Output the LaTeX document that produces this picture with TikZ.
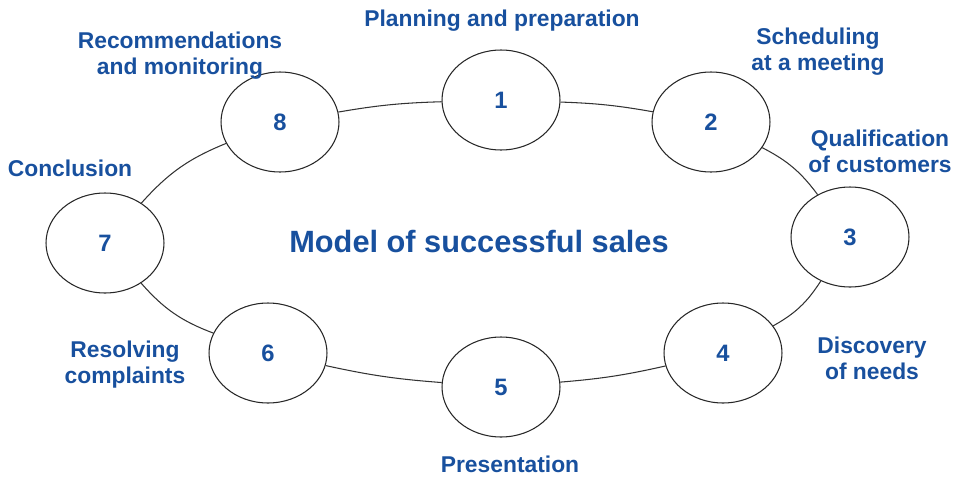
\documentclass[tikz,border=0pt]{standalone}
\usepackage{fontspec}
\setmainfont{Liberation Sans}
\usetikzlibrary{shapes.geometric}
\definecolor{salesblue}{RGB}{24,80,158}

\begin{document}
\begin{tikzpicture}[x=0.02cm, y=-0.02cm]
	\tikzstyle{stage} = [ellipse, draw=black!85, line width=0.6pt, fill=white, minimum width=2.36cm, minimum height=2cm, inner sep=0pt, text=salesblue, font=\fontsize{13.5}{15}\selectfont\bfseries]
	\tikzstyle{stage_label} = [align=center, inner sep=0pt, text=salesblue, font=\fontsize{13}{14.8}\selectfont\bfseries]
	\tikzstyle{ring_link} = [draw=black!80, line width=0.6pt]

	\useasboundingbox (0,0) rectangle (957,477);

%------------------------------------------------------------
	\node[stage] (s1) at (501,100) {1};
	\node[stage] (s2) at (711,122) {2};
	\node[stage] (s3) at (850,237) {3};
	\node[stage] (s4) at (723,353) {4};
	\node[stage] (s5) at (501,387) {5};
	\node[stage] (s6) at (268,353) {6};
	\node[stage] (s7) at (105,243) {7};
	\node[stage] (s8) at (280,122) {8};

%------------------------------------------------------------
	\path[ring_link] (s1) edge[bend left=4]  (s2);
	\path[ring_link] (s2) edge[bend left=13] (s3);
	\path[ring_link] (s3) edge[bend left=14] (s4);
	\path[ring_link] (s4) edge[bend left=4]  (s5);
	\path[ring_link] (s5) edge[bend left=4]  (s6);
	\path[ring_link] (s6) edge[bend left=14] (s7);
	\path[ring_link] (s7) edge[bend left=13] (s8);
	\path[ring_link] (s8) edge[bend left=4]  (s1);

%------------------------------------------------------------
	\node[stage_label] (l1) at (502,21)  {Planning and preparation};
	\node[stage_label] (l2) at (818,52)  {Scheduling\\at a meeting};
	\node[stage_label] (l3) at (880,151) {Qualification\\of customers};
	\node[stage_label] (l4) at (872,358) {Discovery\\of needs};
	\node[stage_label] (l5) at (510,464) {Presentation};
	\node[stage_label] (l6) at (125,365) {Resolving\\complaints};
	\node[stage_label] (l7) at (70,168)  {Conclusion};
	\node[stage_label] (l8) at (180,56)  {Recommendations\\and monitoring};

	\node[stage_label, font=\fontsize{17.5}{20}\selectfont\bfseries] (title) at (479,242) {Model of successful sales};

\end{tikzpicture}
\end{document}
